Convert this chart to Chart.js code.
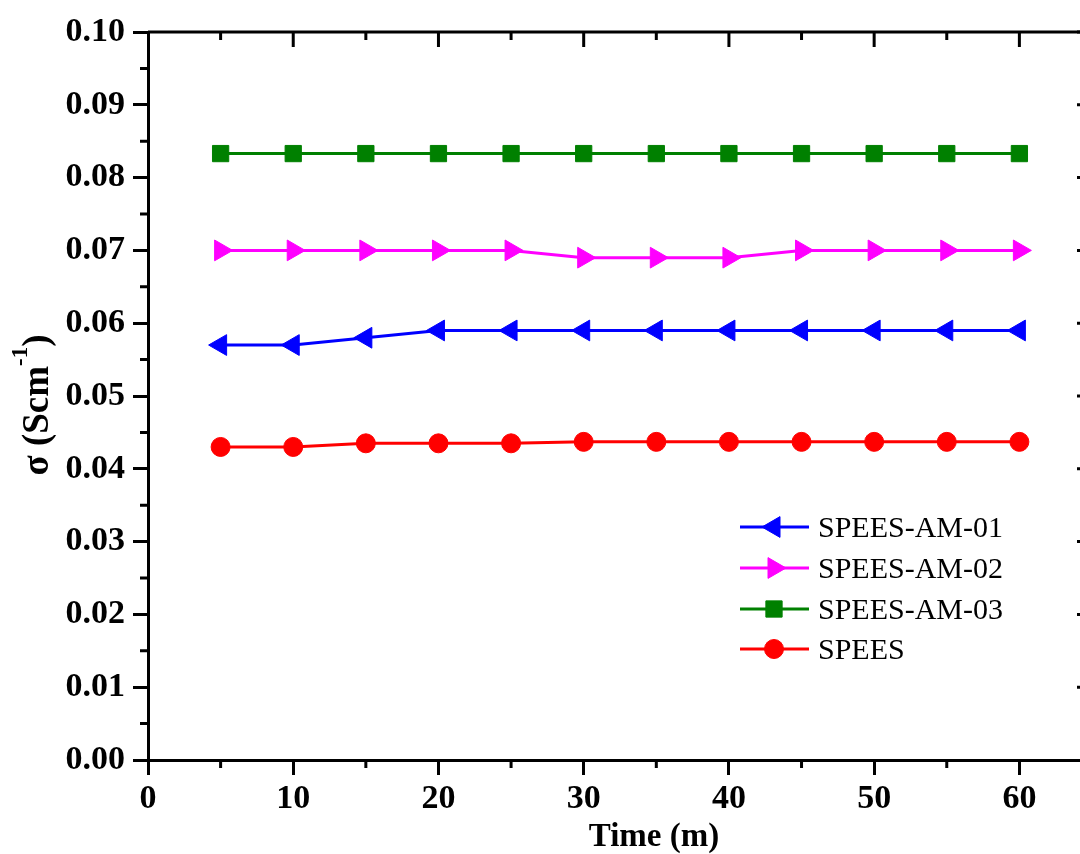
<!DOCTYPE html>
<html>
<head>
<meta charset="utf-8">
<script src="https://cdn.jsdelivr.net/npm/chart.js@4.4.0/dist/chart.umd.min.js"></script>
<style>
    html, body { margin: 0; padding: 0; background: #fff; overflow: hidden; }
    #wrap { width: 1105px; height: 854px; }
</style>
</head>
<body>
<div id="wrap"><canvas id="chart" width="1105" height="854"></canvas></div>
<script>
// Données
const times = [5, 10, 15, 20, 25, 30, 35, 40, 45, 50, 55, 60];
const speesAm01 = [0.0570, 0.0570, 0.0580, 0.0590, 0.0590, 0.0590, 0.0590, 0.0590, 0.0590, 0.0590, 0.0590, 0.0590];
const speesAm02 = [0.0700, 0.0700, 0.0700, 0.0700, 0.0700, 0.0690, 0.0690, 0.0690, 0.0700, 0.0700, 0.0700, 0.0700];
const speesAm03 = [0.0833, 0.0833, 0.0833, 0.0833, 0.0833, 0.0833, 0.0833, 0.0833, 0.0833, 0.0833, 0.0833, 0.0833];
const spees = [0.0430, 0.0430, 0.0435, 0.0435, 0.0435, 0.0437, 0.0437, 0.0437, 0.0437, 0.0437, 0.0437, 0.0437];

const xTicks = [0, 10, 20, 30, 40, 50, 60];
const xMinorTicks = [5, 15, 25, 35, 45, 55];
const yTicks = [0, 0.01, 0.02, 0.03, 0.04, 0.05, 0.06, 0.07, 0.08, 0.09, 0.10];
const yMinorTicks = [0.005, 0.015, 0.025, 0.035, 0.045, 0.055, 0.065, 0.075, 0.085, 0.095];

const serif = "'Liberation Serif', 'Times New Roman', serif";

function toPoints(values) {
    return times.map((t, i) => ({ x: t, y: values[i] }));
}

function series(label, values, color, style, rotation, radius) {
    return {
        label: label,
        data: toPoints(values),
        borderColor: color,
        backgroundColor: color,
        borderWidth: 3,
        pointStyle: style,
        rotation: rotation,
        pointRadius: radius,
        pointBorderWidth: 1,
        tension: 0
    };
}

// Cadre, graduations secondaires, titres et légende
const framePlugin = {
    id: 'frame',
    afterDraw(chart) {
        const ctx = chart.ctx;
        const { left, right, top, bottom } = chart.chartArea;
        const xs = chart.scales.x;
        const ys = chart.scales.y;
        ctx.save();
        ctx.strokeStyle = '#000';
        ctx.lineWidth = 3;
        ctx.beginPath();
        ctx.moveTo(left, top);
        ctx.lineTo(right, top);
        ctx.lineTo(right, bottom);
        ctx.stroke();

        ctx.beginPath();
        xMinorTicks.forEach(v => {
            const px = xs.getPixelForValue(v);
            ctx.moveTo(px, bottom);
            ctx.lineTo(px, bottom + 8);
            ctx.moveTo(px, top);
            ctx.lineTo(px, top + 8);
        });
        xTicks.forEach(v => {
            if (v === 0) return;
            const px = xs.getPixelForValue(v);
            ctx.moveTo(px, top);
            ctx.lineTo(px, top + 15);
        });
        yMinorTicks.forEach(v => {
            const py = ys.getPixelForValue(v);
            ctx.moveTo(left, py);
            ctx.lineTo(left - 8, py);
            ctx.moveTo(right, py);
            ctx.lineTo(right - 8, py);
        });
        yTicks.forEach(v => {
            if (v === 0) return;
            const py = ys.getPixelForValue(v);
            ctx.moveTo(right, py);
            ctx.lineTo(right - 15, py);
        });
        ctx.stroke();

        // Titres des axes
        ctx.fillStyle = '#000';
        ctx.font = 'bold 33px ' + serif;
        ctx.textAlign = 'center';
        ctx.textBaseline = 'alphabetic';
        ctx.fillText('Time (m)', 654, 846);

        ctx.translate(48, 405);
        ctx.rotate(-Math.PI / 2);
        const main = 'σ (Scm';
        const sup = '-1';
        const close = ')';
        ctx.font = 'bold 37px ' + serif;
        const wMain = ctx.measureText(main).width;
        const wClose = ctx.measureText(close).width;
        ctx.font = 'bold 23px ' + serif;
        const wSup = ctx.measureText(sup).width;
        const x0 = -(wMain + wSup + wClose) / 2;
        ctx.textAlign = 'left';
        ctx.font = 'bold 37px ' + serif;
        ctx.fillText(main, x0, 0);
        ctx.font = 'bold 23px ' + serif;
        ctx.fillText(sup, x0 + wMain, -21);
        ctx.font = 'bold 37px ' + serif;
        ctx.fillText(close, x0 + wMain + wSup, 0);
        ctx.restore();

        // Légende
        ctx.save();
        const legendY = [527, 568, 609, 649];
        chart.data.datasets.forEach((ds, i) => {
            const y = legendY[i];
            ctx.strokeStyle = ds.borderColor;
            ctx.fillStyle = ds.backgroundColor;
            ctx.lineWidth = 3;
            ctx.beginPath();
            ctx.moveTo(740, y);
            ctx.lineTo(809, y);
            ctx.stroke();
            ctx.lineWidth = 1;
            Chart.helpers.drawPoint(ctx, {
                pointStyle: ds.pointStyle,
                rotation: ds.rotation,
                radius: ds.pointRadius,
                borderWidth: 1
            }, 774, y);
            ctx.fillStyle = '#000';
            ctx.font = '30px ' + serif;
            ctx.textAlign = 'left';
            ctx.textBaseline = 'middle';
            ctx.fillText(ds.label, 818, y + 2);
        });
        ctx.restore();
    }
};

const tickFont = { family: serif, size: 34, weight: 'bold' };

new Chart(document.getElementById('chart'), {
    type: 'line',
    data: {
        datasets: [
            series('SPEES-AM-01', speesAm01, '#0000ff', 'triangle', -90, 12),
            series('SPEES-AM-02', speesAm02, '#ff00ff', 'triangle', 90, 12),
            series('SPEES-AM-03', speesAm03, '#008000', 'rect', 0, 11.5),
            series('SPEES', spees, '#ff0000', 'circle', 0, 9.5)
        ]
    },
    options: {
        responsive: false,
        animation: false,
        devicePixelRatio: 1,
        layout: { padding: { top: 32, right: 5, left: 0, bottom: 0 } },
        plugins: { legend: { display: false }, tooltip: { enabled: false } },
        scales: {
            x: {
                type: 'linear',
                min: 0,
                max: 65,
                afterBuildTicks: s => { s.ticks = xTicks.map(v => ({ value: v })); },
                afterFit: s => { s.height = 94; },
                ticks: { color: '#000', font: tickFont, padding: 4, maxRotation: 0 },
                grid: { drawOnChartArea: false, drawTicks: true, tickLength: 15, tickWidth: 3, tickColor: '#000' },
                border: { color: '#000', width: 3 }
            },
            y: {
                min: 0,
                max: 0.1,
                afterBuildTicks: s => { s.ticks = yTicks.map(v => ({ value: v })); },
                afterFit: s => { s.width = 148; },
                ticks: { color: '#000', font: tickFont, padding: 8, callback: v => v.toFixed(2) },
                grid: { drawOnChartArea: false, drawTicks: true, tickLength: 15, tickWidth: 3, tickColor: '#000' },
                border: { color: '#000', width: 3 }
            }
        }
    },
    plugins: [framePlugin]
});
</script>
</body>
</html>
